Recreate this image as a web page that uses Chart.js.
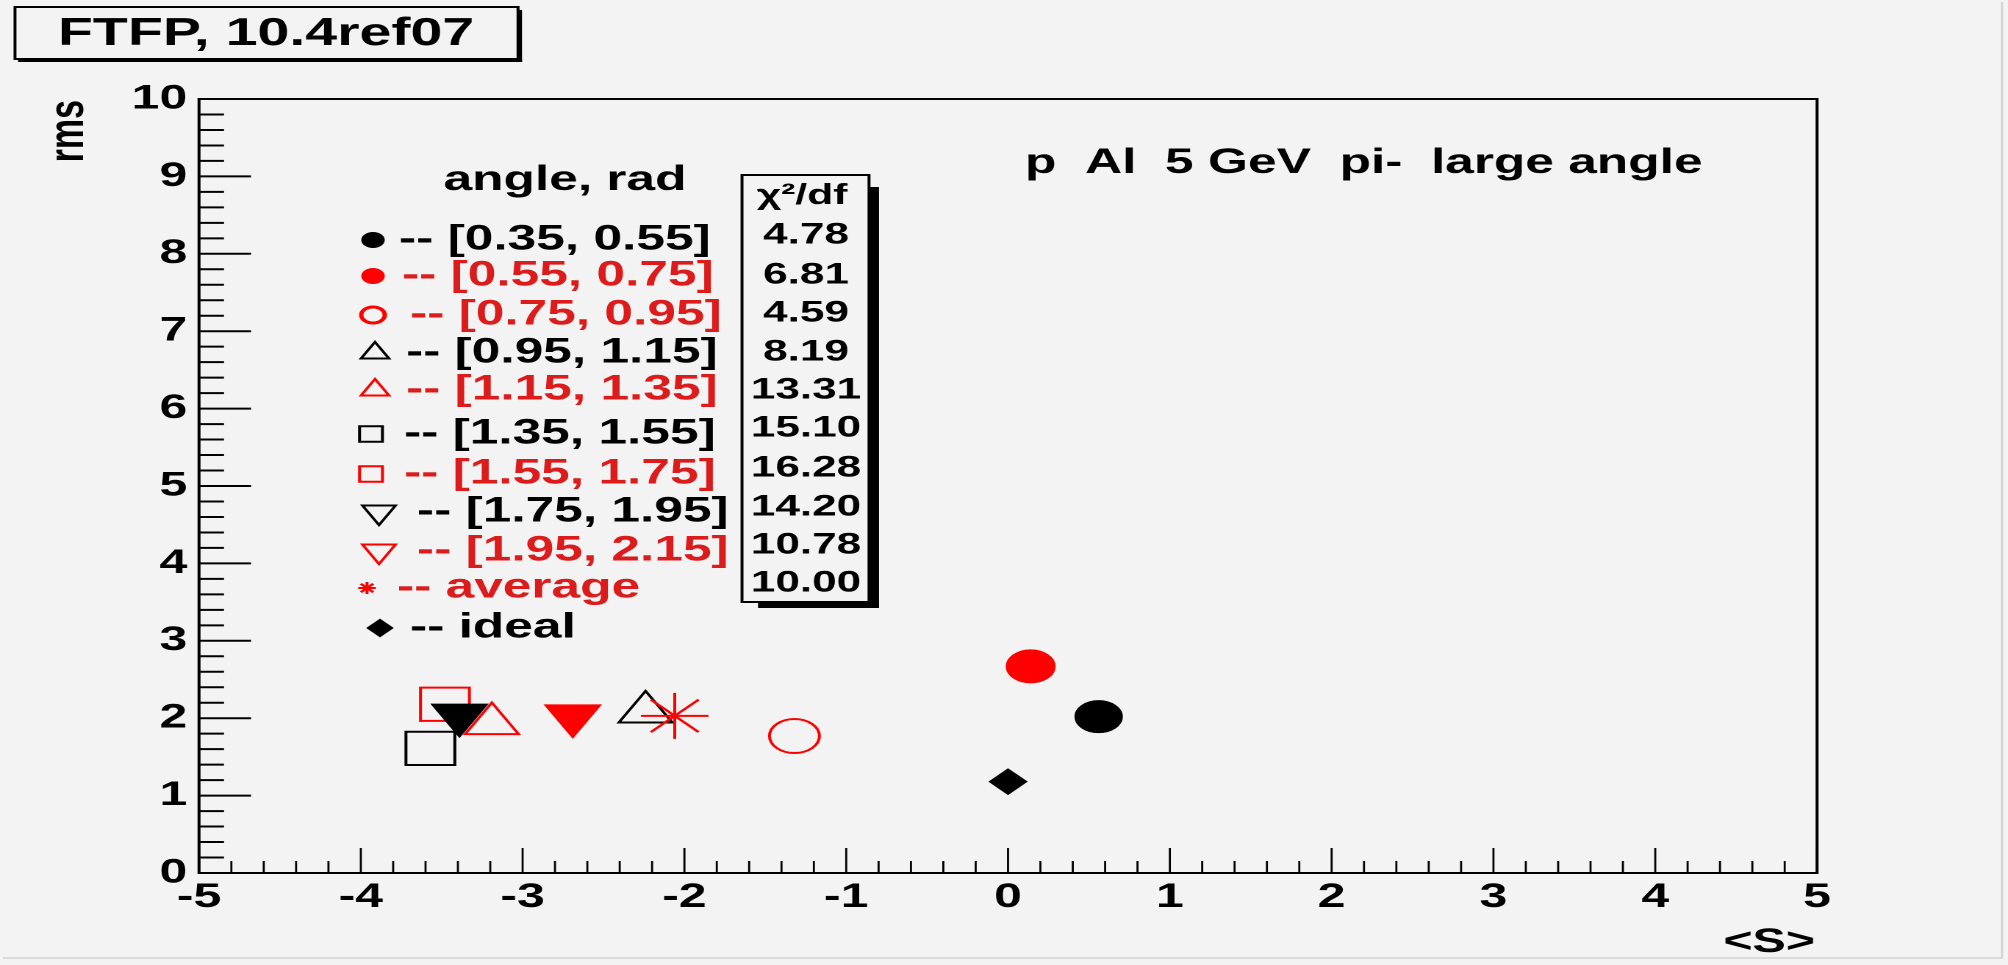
<!DOCTYPE html>
<html>
<head>
<meta charset="utf-8">
<script src="https://cdn.jsdelivr.net/npm/chart.js@4/dist/chart.umd.min.js"></script>
<style>
  html, body { margin: 0; padding: 0; background: #f3f3f3; overflow: hidden; }
  #chart { display: block; transform-origin: 0 0; }
</style>
</head>
<body>
<canvas id="chart" width="1366" height="965"></canvas>
<script>
// <S> vs rms per angular bin, FTFP 10.4ref07, p Al 5 GeV pi- large angle

// the data
const bins = ["[0.35, 0.55]", "[0.55, 0.75]", "[0.75, 0.95]", "[0.95, 1.15]",
  "[1.15, 1.35]", "[1.35, 1.55]", "[1.55, 1.75]", "[1.75, 1.95]",
  "[1.95, 2.15]", "average", "ideal"];
const mean_s = [0.56, 0.14, -1.32, -2.24, -3.19, -3.57, -3.48, -3.39, -2.69, -2.06, 0.00];
const rms = [2.02, 2.67, 1.77, 2.08, 1.93, 1.61, 2.18, 2.04, 2.03, 2.03, 1.18];
const chi2_df = [4.78, 6.81, 4.59, 8.19, 13.31, 15.10, 16.28, 14.20, 10.78, 10.00];
const x_ticks = [-5, -4, -3, -2, -1, 0, 1, 2, 3, 4, 5];
const y_ticks = [0, 1, 2, 3, 4, 5, 6, 7, 8, 9, 10];

// the original picture is stretched sideways, so we draw narrow and stretch the canvas
const S = 2008 / 1366;
const canvas = document.getElementById("chart");
canvas.style.transform = "scaleX(" + S + ")";
const FONT = "'Liberation Sans', Arial, Helvetica, sans-serif";
const RED = "#ff0000";
const TXT_RED = "#dc1c1c";

// marker looks, one per bin (plot marker, legend marker)
const looks = [
  { style: "circle", color: "#000", fill: true, r: 15.5, lr: 7, lfill: true },
  { style: "circle", color: RED, fill: true, r: 16, lr: 7, lfill: true },
  { style: "circle", color: RED, fill: false, r: 17, lr: 8, lfill: false },
  { style: "triangle", color: "#000", fill: false, r: 21, lr: 11, lfill: false },
  { style: "triangle", color: RED, fill: false, r: 21, lr: 11, lfill: false },
  { style: "rect", color: "#000", fill: false, r: 23.5, lr: 11, lfill: false },
  { style: "rect", color: RED, fill: false, r: 23.5, lr: 11, lfill: false },
  { style: "triangle", rot: 180, color: "#000", fill: true, r: 21, lr: 13, lfill: false },
  { style: "triangle", rot: 180, color: RED, fill: true, r: 21, lr: 13, lfill: false },
  { style: "star", color: RED, fill: false, r: 23, lr: 6, lfill: false },
  { style: "rectRot", color: "#000", fill: true, r: 12, lr: 8, lfill: true },
];
const text_red = [false, true, true, false, true, false, true, false, true, true, false];

// legend layout, in picture pixels
const leg_y = [240, 276, 315, 353, 390, 434, 474, 512, 551, 588, 628];
const leg_sym_x = [373, 373, 373, 375, 375, 371, 371, 379, 379, 367, 380];
const leg_txt_x = [399, 402, 410, 406, 406, 404, 404, 417, 417, 397, 410];
const chi_y = [235, 275, 313, 352, 390, 428, 468, 507, 545, 583];

function lx(x) { return x / S; }

function put_text(ctx, str, x, y, size, color, align, base) {
  ctx.font = "bold " + size + "px " + FONT;
  ctx.fillStyle = color;
  ctx.textAlign = align || "left";
  ctx.textBaseline = base || "alphabetic";
  ctx.fillText(str, lx(x), y);
}

function gen_datasets() {
  return bins.map(function(name, i) {
    const lk = looks[i];
    return {
      label: name,
      data: [{ x: mean_s[i], y: rms[i] }],
      pointStyle: lk.style,
      rotation: lk.rot || 0,
      pointRadius: lk.r,
      borderColor: lk.color,
      backgroundColor: lk.fill ? lk.color : "rgba(0,0,0,0)",
      borderWidth: 2,
      order: bins.length - i
    };
  });
}

// background, frame and ROOT-like inner tick marks
const frame_plugin = {
  id: "frame",
  beforeDraw(chart) {
    const ctx = chart.ctx;
    ctx.save();
    ctx.fillStyle = "#f3f3f3";
    ctx.fillRect(0, 0, chart.width, chart.height);
    ctx.strokeStyle = "#d4d4d4";
    ctx.lineWidth = 1.5;
    ctx.beginPath();
    ctx.moveTo(lx(2002), 2);
    ctx.lineTo(lx(2002), 958);
    ctx.lineTo(2, 958);
    ctx.stroke();
    ctx.restore();
  },
  beforeDatasetsDraw(chart) {
    const ctx = chart.ctx;
    const a = chart.chartArea;
    const xs = chart.scales.x;
    const ys = chart.scales.y;
    ctx.save();
    ctx.strokeStyle = "#000";
    ctx.lineWidth = 2;
    ctx.strokeRect(a.left, a.top, a.right - a.left, a.bottom - a.top);
    ctx.beginPath();
    for (let i = 0; i <= 50; i++) {
      const px = xs.getPixelForValue(-5 + i * 0.2);
      const len = (i % 5 === 0) ? 25 : 12;
      ctx.moveTo(px, a.bottom);
      ctx.lineTo(px, a.bottom - len);
    }
    ctx.lineWidth = 1.4;
    ctx.stroke();
    ctx.beginPath();
    for (let i = 0; i <= 50; i++) {
      const py = ys.getPixelForValue(i * 0.2);
      const len = (i % 5 === 0) ? lx(52) : lx(25);
      ctx.moveTo(a.left, py);
      ctx.lineTo(a.left + len, py);
    }
    ctx.lineWidth = 2;
    ctx.stroke();
    ctx.restore();
  },
  afterDraw(chart) {
    const ctx = chart.ctx;
    ctx.save();

    // title box
    ctx.strokeStyle = "#000";
    ctx.lineWidth = 2;
    ctx.strokeRect(lx(15), 7, lx(518) - lx(15), 52);
    ctx.fillStyle = "#000";
    ctx.fillRect(lx(518), 10, lx(4), 52);
    ctx.fillRect(lx(18), 59, lx(504) , 3);
    put_text(ctx, "FTFP, 10.4ref07", 266, 45, 39, "#000", "center");

    // axis titles
    put_text(ctx, "<S>", 1815, 952, 34, "#000", "right");
    ctx.save();
    ctx.translate(lx(83), 100);
    ctx.rotate(-Math.PI / 2);
    ctx.font = "bold 34px " + FONT;
    ctx.fillStyle = "#000";
    ctx.textAlign = "right";
    ctx.textBaseline = "alphabetic";
    ctx.fillText("rms", 0, 0);
    ctx.restore();

    put_text(ctx, "p  Al  5 GeV  pi-  large angle", 1025, 173, 35, "#000", "left");

    // legend
    put_text(ctx, "angle, rad", 565, 190, 35, "#000", "center");
    for (let i = 0; i < bins.length; i++) {
      const lk = looks[i];
      ctx.fillStyle = lk.lfill ? lk.color : "rgba(0,0,0,0)";
      ctx.strokeStyle = lk.color;
      ctx.lineWidth = (lk.style === "circle" && !lk.lfill) ? 3 : 2;
      Chart.helpers.drawPoint(ctx, {
        pointStyle: lk.style, rotation: lk.rot || 0, radius: lk.lr, borderWidth: 2
      }, lx(leg_sym_x[i]), leg_y[i]);
      put_text(ctx, "-- " + bins[i], leg_txt_x[i], leg_y[i], 35,
        text_red[i] ? TXT_RED : "#000", "left", "middle");
    }

    // chi2/df box with shadow
    ctx.strokeStyle = "#000";
    ctx.lineWidth = 2;
    ctx.strokeRect(lx(742), 175, lx(869) - lx(742), 427);
    ctx.fillStyle = "#000";
    ctx.fillRect(lx(869), 187, lx(10), 421);
    ctx.fillRect(lx(758), 602, lx(121), 6);
    put_text(ctx, "\u03c7\u00b2/df", 802, 204, 29, "#000", "center");
    for (let i = 0; i < chi2_df.length; i++) {
      put_text(ctx, chi2_df[i].toFixed(2), 806, chi_y[i], 30, "#000", "center", "middle");
    }
    ctx.restore();
  }
};

function init_chart() {
  const tick_font = { family: FONT, size: 34, weight: "bold" };
  const config = {
    type: "scatter",
    data: { datasets: gen_datasets() },
    options: {
      responsive: false,
      maintainAspectRatio: false,
      devicePixelRatio: 2,
      animation: false,
      layout: { padding: { left: 0, right: 1366 - 1236.1, top: 99, bottom: 0 } },
      plugins: {
        legend: { display: false },
        tooltip: { enabled: false },
        title: { display: false }
      },
      scales: {
        x: {
          type: "linear",
          min: -5,
          max: 5,
          afterBuildTicks(scale) { scale.ticks = x_ticks.map((v) => ({ value: v })); },
          afterFit(scale) {
            scale.height = 92;
            scale.paddingLeft = 0; scale.paddingRight = 0;
          },
          ticks: { font: tick_font, color: "#000", padding: 4, maxRotation: 0, autoSkip: false },
          grid: { display: false, drawTicks: false },
          border: { display: false }
        },
        y: {
          type: "linear",
          min: 0,
          max: 10,
          afterBuildTicks(scale) { scale.ticks = y_ticks.map((v) => ({ value: v })); },
          afterFit(scale) {
            scale.width = 199 / S;
            scale.paddingTop = 0; scale.paddingBottom = 0;
          },
          ticks: { font: tick_font, color: "#000", padding: 8, autoSkip: false },
          grid: { display: false, drawTicks: false },
          border: { display: false }
        }
      }
    },
    plugins: [frame_plugin]
  };
  return new Chart(canvas.getContext("2d"), config);
}

init_chart();
</script>
</body>
</html>
